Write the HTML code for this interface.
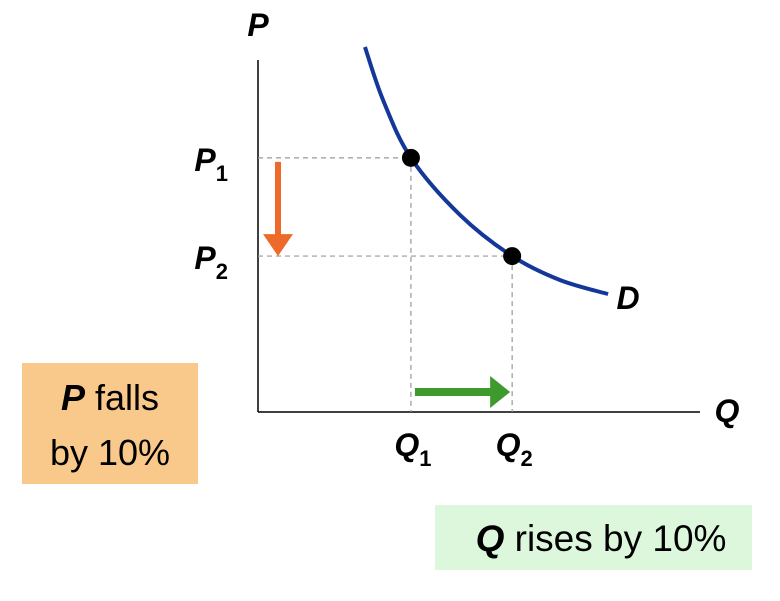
<!DOCTYPE html>
<html><head><meta charset="utf-8"><style>
html,body{margin:0;padding:0;background:#fff;}
svg text{font-family:"Liberation Sans",sans-serif;}
</style></head><body>
<svg width="780" height="596" viewBox="0 0 780 596" xmlns="http://www.w3.org/2000/svg">
<rect x="22" y="363" width="176" height="121" fill="#f8c98b"/>
<text x="110" y="410" text-anchor="middle" font-size="36" fill="#000"><tspan font-weight="bold" font-style="italic">P</tspan>  falls</text>
<text x="110" y="465" text-anchor="middle" font-size="36" fill="#000">by 10%</text>
<rect x="435" y="505" width="317" height="65" fill="#dcf7dc"/>
<text x="601" y="551" text-anchor="middle" font-size="37" fill="#000"><tspan font-weight="bold" font-style="italic">Q</tspan> rises by 10%</text>
<g id="plot"></g>
</svg>
<script>
const curveQ=[2.42,2.83,3.46,4.57,5.75,6.83,7.92];
const curveP=[10.37,8.86,7.22,5.6,4.43,3.75,3.35];
const pointQ=[3.46,5.75];
const pointP=[7.22,4.43];
const qLabels=["1","2"];
const pLabels=["1","2"];
const NS="http://www.w3.org/2000/svg";
const g=document.getElementById('plot');
const X0=258,Y0=412;
const xs=q=>X0+q*44.2;
const ys=p=>Y0-p*35.2;
function mk(t,a){const e=document.createElementNS(NS,t);for(const k in a)e.setAttribute(k,a[k]);g.appendChild(e);return e;}
let ax=mk('line',{x1:X0,y1:60,x2:X0,y2:Y0,stroke:'#000','stroke-width':1.5});


ax=mk('line',{x1:X0,y1:Y0,x2:700,y2:Y0,stroke:'#000','stroke-width':1.5});


let t=mk('text',{x:258,y:36,'font-size':32,'font-weight':'bold','font-style':'italic','text-anchor':'middle'});t.textContent='P';


t=mk('text',{x:727,y:422,'font-size':32,'font-weight':'bold','font-style':'italic','text-anchor':'middle'});t.textContent='Q';


pointQ.forEach((q,i)=>{
 const x=xs(q),y=ys(pointP[i]);
 let l=mk('line',{x1:X0,y1:y,x2:x,y2:y,stroke:'#999','stroke-width':1.2,'stroke-dasharray':'5,4'});
 
 
 l=mk('line',{x1:x,y1:y,x2:x,y2:Y0,stroke:'#999','stroke-width':1.2,'stroke-dasharray':'5,4'});
 
 
 let tp=mk('text',{x:X0-30,y:y+13,'font-size':32,'font-weight':'bold','font-style':'italic','text-anchor':'end'});
 tp.innerHTML='P<tspan font-size="22" font-style="normal" dy="10">'+pLabels[i]+'</tspan>';
 
 
 let tq=mk('text',{x:x+2,y:Y0+44,'font-size':32,'font-weight':'bold','font-style':'italic','text-anchor':'middle'});
 tq.innerHTML='Q<tspan font-size="22" font-style="normal" dy="10">'+qLabels[i]+'</tspan>';
 
 
});
const pts=curveQ.map((q,i)=>[xs(q),ys(curveP[i])]);
let d='M'+pts[0][0]+','+pts[0][1];
for(let i=0;i<pts.length-1;i++){
 const p0=pts[Math.max(0,i-1)],p1=pts[i],p2=pts[i+1],p3=pts[Math.min(pts.length-1,i+2)];
 d+=' C'+(p1[0]+(p2[0]-p0[0])/6)+','+(p1[1]+(p2[1]-p0[1])/6)+' '+(p2[0]-(p3[0]-p1[0])/6)+','+(p2[1]-(p3[1]-p1[1])/6)+' '+p2[0]+','+p2[1];
}
const c=mk('path',{d:d,fill:'none',stroke:'#13389a','stroke-width':4});


t=mk('text',{x:pts[pts.length-1][0]+20,y:pts[pts.length-1][1]+15,'font-size':32,'font-weight':'bold','font-style':'italic','text-anchor':'middle'});t.textContent='D';


pointQ.forEach((q,i)=>{
 const p=mk('circle',{cx:xs(q),cy:ys(pointP[i]),r:9,fill:'#000'});
 
 
});
const ya=ys(pointP[0])+4,yb=ys(pointP[1]);
let a=mk('path',{d:`M275,${ya} L281,${ya} L281,${yb-22} L293,${yb-22} L278,${yb} L263,${yb-22} L275,${yb-22} Z`,fill:'#ee6a2a'});


const xa=xs(pointQ[0])+4,xb=xs(pointQ[1])-2;
a=mk('path',{d:`M${xa},388 L${xb-20},388 L${xb-20},376 L${xb},392 L${xb-20},408 L${xb-20},396 L${xa},396 Z`,fill:'#3f9a2e'});


</script>
</body></html>
